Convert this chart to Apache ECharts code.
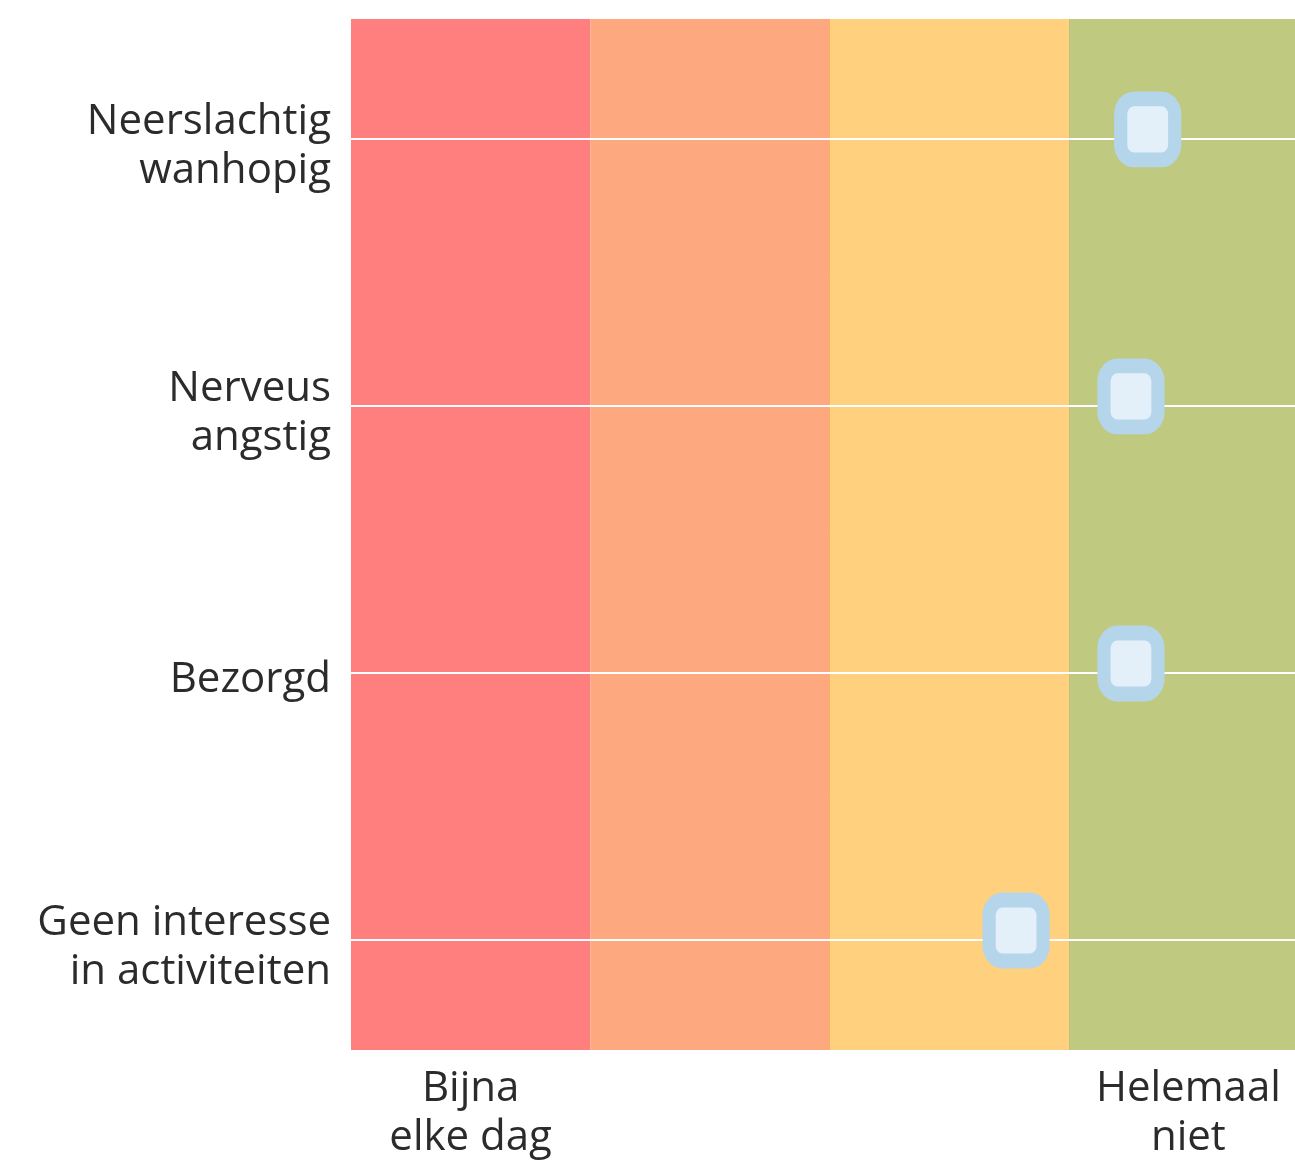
<!DOCTYPE html>
<html>
<head>
<meta charset="utf-8">
<script src="https://cdn.jsdelivr.net/npm/echarts@6/dist/echarts.min.js"></script>
<style>
  html, body { margin: 0; padding: 0; background: #ffffff; }
  #chart { width: 1295px; height: 1164px; }
</style>
</head>
<body>
<div id="chart"></div>
<script>
// ---- data ----
const categories = ['Neerslachtig\nwanhopig', 'Nerveus\nangstig', 'Bezorgd', 'Geen interesse\nin activiteiten'];
const scores = [3.33, 3.26, 3.26, 2.78];
const bandEdges = [0, 1, 2, 3, 4];
const xTickValues = [0.5, 3.5];
const xTickLabels = ['Bijna\nelke dag', 'Helemaal\nniet'];

// ---- styles ----
const bandColors = ['#ff7f7f', '#fea87f', '#ffd17f', '#c0c980'];
const seamColors = [null, null, '#fbae5c', '#cdbb6c', null];
const textColor = '#2b2b2b';
const fontFamily = '"Open Sans", "Noto Sans", sans-serif';
const labelNudge = 0.027; // small visual offset of y labels below their line (in axis units)

const chart = echarts.init(document.getElementById('chart'), null, { renderer: 'canvas' });

const bandAreas = [];
for (let i = 0; i < bandEdges.length - 1; i++) {
  bandAreas.push([
    { xAxis: bandEdges[i], itemStyle: { color: bandColors[i] } },
    { xAxis: bandEdges[i + 1] }
  ]);
}
const seamLines = [];
bandEdges.forEach((e, i) => {
  if (seamColors[i]) seamLines.push({ xAxis: e, lineStyle: { color: seamColors[i], width: 1, type: 'solid' } });
});

const option = {
  animation: false,
  grid: {
    left: 351, top: 19, width: 957, height: 1031,
    containLabel: false,
    outerBoundsMode: 'none'
  },
  xAxis: {
    type: 'value',
    min: bandEdges[0],
    max: bandEdges[bandEdges.length - 1],
    axisLine: { show: false },
    axisTick: { show: false },
    splitLine: { show: false },
    axisLabel: {
      customValues: xTickValues,
      formatter: function (v) {
        const idx = xTickValues.indexOf(v);
        return idx >= 0 ? xTickLabels[idx] : '';
      },
      color: textColor,
      fontFamily: fontFamily,
      fontSize: 42,
      lineHeight: 49,
      margin: 15,
      align: 'center'
    }
  },
  yAxis: {
    type: 'value',
    inverse: true,
    min: -0.449,
    max: 3.412,
    axisLine: { show: false },
    axisTick: { show: false },
    splitLine: { show: false },
    axisLabel: {
      customValues: categories.map((c, i) => i + labelNudge),
      formatter: function (v) {
        return categories[Math.round(v)] || '';
      },
      color: textColor,
      fontFamily: fontFamily,
      fontSize: 42,
      lineHeight: 49,
      margin: 20,
      align: 'right'
    }
  },
  series: [
    {
      type: 'scatter',
      silent: true,
      data: [],
      markArea: {
        silent: true,
        data: bandAreas
      },
      z: 1
    },
    {
      type: 'scatter',
      silent: true,
      data: [],
      markLine: {
        silent: true,
        symbol: 'none',
        label: { show: false },
        lineStyle: { width: 1, type: 'solid' },
        data: seamLines
      },
      z: 2
    },
    {
      type: 'scatter',
      silent: true,
      data: [],
      markLine: {
        silent: true,
        symbol: 'none',
        label: { show: false },
        lineStyle: { color: '#ffffff', width: 2, type: 'solid' },
        data: categories.map((c, i) => ({ yAxis: i }))
      },
      z: 3
    },
    {
      type: 'scatter',
      silent: true,
      symbol: 'roundRect',
      symbolSize: [54, 61],
      symbolOffset: [0, -9.5],
      itemStyle: {
        color: '#e3f0fa',
        borderColor: '#b5d5eb',
        borderWidth: 14,
        opacity: 1
      },
      data: scores.map((s, i) => [s, i]),
      z: 5
    }
  ]
};

chart.setOption(option);
</script>
</body>
</html>
